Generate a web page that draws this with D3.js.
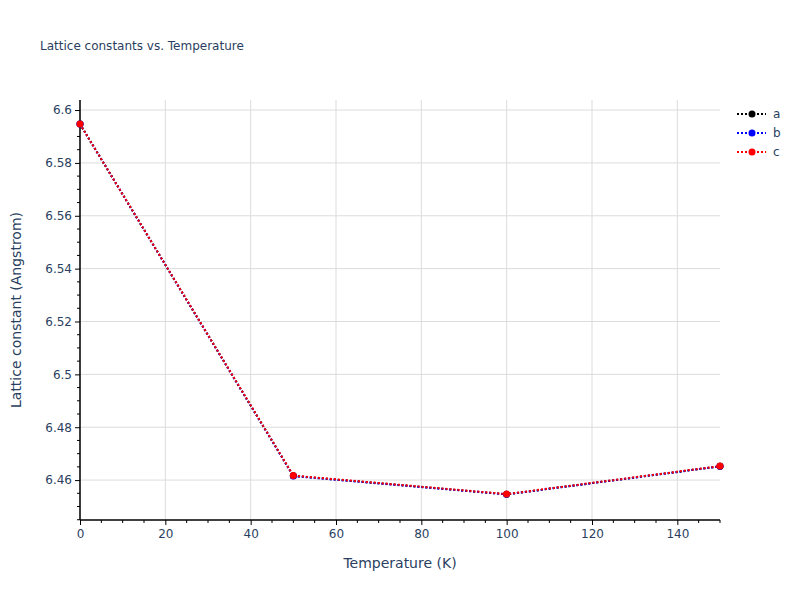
<!DOCTYPE html>
<html><head><meta charset="utf-8">
<script src="https://cdn.jsdelivr.net/npm/d3@7"></script>
<style>body{margin:0;background:#fff}svg{font-family:"DejaVu Sans",Verdana,sans-serif}</style>
</head><body><div id="chart"></div>
<script>
const temperatures = [0, 50, 100, 150];
const seriesNames = ["a", "b", "c"];
const seriesColors = ["black", "blue", "red"];
const valuesA = [6.5947, 6.4616, 6.4546, 6.4652];
const valuesB = [6.5947, 6.4615, 6.4546, 6.4652];
const valuesC = [6.5947, 6.4617, 6.4547, 6.4653];
const xTicks = [0, 20, 40, 60, 80, 100, 120, 140];
const yTicks = [6.46, 6.48, 6.5, 6.52, 6.54, 6.56, 6.58, 6.6];
const yTickLabels = ["6.46", "6.48", "6.5", "6.52", "6.54", "6.56", "6.58", "6.6"];
const allValues = [valuesA, valuesB, valuesC];

const W = 800, H = 600;
const m = {l: 80, r: 80, t: 100, b: 80};
const FONT = '"DejaVu Sans",Verdana,sans-serif';
const svg = d3.select("#chart").append("svg").attr("width", W).attr("height", H);
const x = d3.scaleLinear().domain([0, 150]).range([m.l, W - m.r]);
const y = d3.scaleLinear().domain([6.4449, 6.6038]).range([H - m.b, m.t]);
const textColor = "#2a3f5f";

// grid
svg.append("g").selectAll("line").data(xTicks).join("line")
  .attr("x1", d => x(d)).attr("x2", d => x(d)).attr("y1", m.t).attr("y2", H - m.b)
  .attr("stroke", "#dcdcdc").attr("stroke-width", 1);
svg.append("g").selectAll("line").data(yTicks).join("line")
  .attr("x1", m.l).attr("x2", W - m.r).attr("y1", d => y(d)).attr("y2", d => y(d))
  .attr("stroke", "#dcdcdc").attr("stroke-width", 1);

// minor ticks
const xMinor = d3.range(0, 151, 5).filter(v => v % 20 !== 0);
const yMinor = d3.range(6.445, 6.6036, 0.005).filter(v => Math.abs(Math.round(v*50) - v*50) > 1e-6);
svg.append("g").selectAll("line").data(xMinor).join("line")
  .attr("x1", d => x(d)).attr("x2", d => x(d)).attr("y1", H - m.b).attr("y2", H - m.b + 3)
  .attr("stroke", "#000").attr("stroke-width", 1);
svg.append("g").selectAll("line").data(yMinor).join("line")
  .attr("x1", m.l - 3).attr("x2", m.l).attr("y1", d => y(d)).attr("y2", d => y(d))
  .attr("stroke", "#000").attr("stroke-width", 1);

// axes
const xAxis = d3.axisBottom(x).tickValues(xTicks).tickSize(5).tickPadding(4).tickFormat(d3.format("d"));
const gx = svg.append("g").attr("transform", `translate(0,${H - m.b})`).call(xAxis);
const yAxis = d3.axisLeft(y).tickValues(yTicks).tickSize(5).tickPadding(3).tickFormat((d, i) => yTickLabels[i]);
const gy = svg.append("g").attr("transform", `translate(${m.l},0)`).call(yAxis);
[gx, gy].forEach(g => {
  g.select(".domain").attr("stroke", "#000").attr("stroke-width", 1.5);
  g.selectAll(".tick line").attr("stroke", "#000");
  g.selectAll("text").attr("fill", textColor).style("font-size", "12px").style("font-family", FONT);
});
gx.select(".domain").attr("d", `M${m.l},0H${W - m.r}`);
gy.select(".domain").attr("d", `M0,${H - m.b}V${m.t}`);

// lines
svg.append("clipPath").attr("id", "clip").append("rect")
  .attr("x", m.l - 6).attr("y", m.t).attr("width", W - m.l - m.r + 12).attr("height", H - m.t - m.b);
const line = d3.line().x((d, i) => x(temperatures[i])).y(d => y(d));
const plot = svg.append("g").attr("clip-path", "url(#clip)");
allValues.forEach((vals, si) => {
  plot.append("path").datum(vals).attr("d", line).attr("fill", "none")
    .attr("stroke", seriesColors[si]).attr("stroke-width", 2).attr("stroke-dasharray", "2,2");
  plot.append("g").selectAll("circle").data(vals).join("circle")
    .attr("cx", (d, i) => x(temperatures[i])).attr("cy", d => y(d)).attr("r", 3.5)
    .attr("fill", seriesColors[si]);
});

// titles
svg.append("text").attr("x", 40).attr("y", 50).text("Lattice constants vs. Temperature")
  .attr("fill", textColor).style("font-size", "12px");
svg.append("text").attr("x", (m.l + W - m.r) / 2).attr("y", 568).attr("text-anchor", "middle")
  .text("Temperature (K)").attr("fill", textColor).style("font-size", "14px");
svg.append("text").attr("transform", `translate(21,${(m.t + H - m.b) / 2}) rotate(-90)`)
  .attr("text-anchor", "middle").text("Lattice constant (Angstrom)")
  .attr("fill", textColor).style("font-size", "14px");

// legend
const lg = svg.append("g");
seriesNames.forEach((n, i) => {
  const yy = 114 + i * 19;
  lg.append("line").attr("x1", 737).attr("x2", 766).attr("y1", yy).attr("y2", yy)
    .attr("stroke", seriesColors[i]).attr("stroke-width", 2).attr("stroke-dasharray", "2,2");
  lg.append("circle").attr("cx", 752).attr("cy", yy).attr("r", 3.5).attr("fill", seriesColors[i]);
  lg.append("text").attr("x", 773).attr("y", yy + 4).text(n).attr("fill", textColor).style("font-size", "12px");
});
</script></body></html>
